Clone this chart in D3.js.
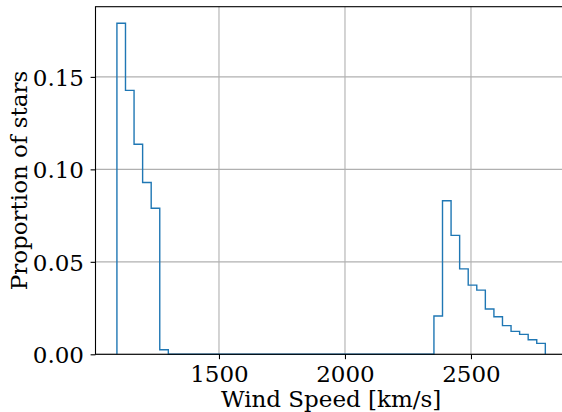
<!DOCTYPE html>
<html>
<head>
<meta charset="utf-8">
<script src="https://cdn.jsdelivr.net/npm/d3@7"></script>
<style>
  html, body { margin: 0; padding: 0; background: #fff; overflow: hidden; }
  svg { display: block; }
  text { font-family: "DejaVu Serif", serif; fill: #000; }
</style>
</head>
<body>
<svg id="chart" width="562" height="412"></svg>
<script>
// Histogram of stellar wind speeds: 50 equal bins between the lowest and highest speed.
const binLow = 1095;
const binHigh = 2795;
const binCount = 50;

// Proportion of stars in each bin (left to right)
const proportions = [
  0.1790, 0.1427, 0.1136, 0.0929, 0.0790, 0.0025,
  0, 0, 0, 0, 0, 0, 0, 0, 0, 0,
  0, 0, 0, 0, 0, 0, 0, 0, 0, 0,
  0, 0, 0, 0, 0, 0, 0, 0, 0, 0,
  0,
  0.0207, 0.0830, 0.0643, 0.0462, 0.0374, 0.0347, 0.0245,
  0.0203, 0.0155, 0.0124, 0.0108, 0.0079, 0.0059
];

const xTicks = [1500, 2000, 2500];
const yTicks = [0.00, 0.05, 0.10, 0.15];

const xLabel = "Wind Speed [km/s]";
const yLabel = "Proportion of stars";

const svg = d3.select("#chart");
const plotLeft = 95.5, plotTop = 6.7, plotBottom = 354.3;
const lineColor = "#1f77b4";
const fontSize = 23;

// Axis limits padded by 5% of the data span, as a plotting library would
const xPad = (binHigh - binLow) * 0.05;
const xDomain = [binLow - xPad, binHigh + xPad];
const pxPerUnit = 0.252;
const plotRight = plotLeft + (xDomain[1] - xDomain[0]) * pxPerUnit;

const x = d3.scaleLinear().domain(xDomain).range([plotLeft, plotRight]);
const y = d3.scaleLinear().domain([0, d3.max(proportions) * 1.05]).range([plotBottom, plotTop]);

const binWidth = (binHigh - binLow) / binCount;
const edges = d3.range(binCount + 1).map(i => binLow + i * binWidth);

// Grid
const grid = svg.append("g");
grid.selectAll(".gx").data(xTicks).join("line")
  .attr("x1", d => x(d)).attr("x2", d => x(d))
  .attr("y1", plotTop).attr("y2", plotBottom)
  .attr("stroke", "#b0b0b0").attr("stroke-width", 1.1);
grid.selectAll(".gy").data(yTicks).join("line")
  .attr("x1", plotLeft).attr("x2", plotRight)
  .attr("y1", d => y(d)).attr("y2", d => y(d))
  .attr("stroke", "#b0b0b0").attr("stroke-width", 1.1);

// Step outline of the histogram
const pts = [[edges[0], 0]];
proportions.forEach((v, i) => {
  pts.push([edges[i], v]);
  pts.push([edges[i + 1], v]);
});
pts.push([edges[binCount], 0]);
svg.append("path")
  .attr("d", d3.line().x(d => x(d[0])).y(d => y(d[1]))(pts))
  .attr("fill", "none")
  .attr("stroke", lineColor)
  .attr("stroke-width", 1.4)
  .attr("stroke-linejoin", "miter");

// Axes
const xAxis = d3.axisBottom(x).tickValues(xTicks).tickSize(4.9)
  .tickFormat(d3.format("d"));
const gx = svg.append("g").attr("transform", `translate(0,${plotBottom})`).call(xAxis);
const yAxis = d3.axisLeft(y).tickValues(yTicks).tickSize(4.9)
  .tickFormat(d3.format(".2f"));
const gy = svg.append("g").attr("transform", `translate(${plotLeft},0)`).call(yAxis);

[gx, gy].forEach(g => {
  g.select(".domain").remove();
  g.selectAll(".tick line").attr("stroke", "#000").attr("stroke-width", 1.1);
  g.selectAll(".tick text")
    .attr("font-family", "DejaVu Serif")
    .attr("font-size", fontSize)
    .attr("fill", "#000");
});
gy.selectAll(".tick text").attr("x", -11.5).attr("dy", "0.365em");
gx.selectAll(".tick text").attr("y", 27.4).attr("dy", 0);

// Frame (the right edge lies past the canvas)
svg.append("rect")
  .attr("x", plotLeft).attr("y", plotTop)
  .attr("width", plotRight - plotLeft).attr("height", plotBottom - plotTop)
  .attr("fill", "none").attr("stroke", "#000").attr("stroke-width", 1.1);

// Axis titles
svg.append("text")
  .attr("x", (plotLeft + plotRight) / 2).attr("y", 406.7)
  .attr("text-anchor", "middle").attr("font-size", fontSize)
  .text(xLabel);
svg.append("text")
  .attr("transform", `translate(27,${(plotTop + plotBottom) / 2}) rotate(-90)`)
  .attr("text-anchor", "middle").attr("font-size", fontSize)
  .text(yLabel);
</script>
</body>
</html>
